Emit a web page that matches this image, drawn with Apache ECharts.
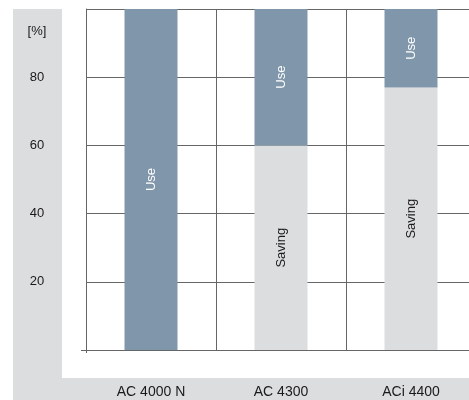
<!DOCTYPE html>
<html><head><meta charset="utf-8">
<script src="https://cdn.jsdelivr.net/npm/echarts@6/dist/echarts.min.js"></script>
<style>html,body{margin:0;padding:0;background:#fff;overflow:hidden;width:469px;height:400px}#c{width:476px;height:400px}</style>
</head><body><div id="c"></div>
<script>
var categories = ['AC 4000 N', 'AC 4300', 'ACi 4400'];
var savingValues = [0, 60, 77];
var useValues = [100, 40, 23];
var yTicks = [20, 40, 60, 80];
var unitLabel = '[%]';

var chart = echarts.init(document.getElementById('c'));
var font = 'Liberation Sans, Arial, sans-serif';
chart.setOption({
  animation: false,
  graphic: [
    { type: 'rect', z: -10, shape: { x: 13, y: 9, width: 49, height: 391 }, style: { fill: '#dcdddf' } },
    { type: 'rect', z: -10, shape: { x: 13, y: 378, width: 463, height: 22 }, style: { fill: '#dcdddf' } },
    { type: 'text', x: 37, y: 31, style: { text: unitLabel, fill: '#1a1a1a', font: '13px ' + font, textAlign: 'center', textVerticalAlign: 'middle' } }
  ],
  grid: { left: 86, top: 9, right: 0, bottom: 50, containLabel: false },
  xAxis: {
    type: 'category',
    data: categories,
    boundaryGap: true,
    axisLine: { show: true, lineStyle: { color: '#666', width: 1 } },
    axisTick: { show: true, length: 3, interval: function (i) { return i === 0; }, lineStyle: { color: '#666' } },
    splitLine: { show: true, lineStyle: { color: '#666', width: 1 } },
    axisLabel: { margin: 35, color: '#1a1a1a', fontSize: 14, fontFamily: font }
  },
  yAxis: [{
    type: 'value', min: 0, max: 100, interval: 20,
    axisLine: { show: true, lineStyle: { color: '#666', width: 1 } },
    axisTick: { show: false },
    splitLine: { show: true, lineStyle: { color: '#666', width: 1 } },
    axisLabel: {
      margin: 49, align: 'center', color: '#1a1a1a', fontSize: 13, fontFamily: font,
      formatter: function (v) { return yTicks.indexOf(v) >= 0 ? String(v) : ''; }
    }
  }, {
    type: 'value', min: 0, max: 100, interval: 20, position: 'left',
    axisLine: { show: false },
    axisTick: { show: true, length: 5, customValues: [0], lineStyle: { color: '#666' } },
    splitLine: { show: false },
    axisLabel: { show: false }
  }],
  series: [
    {
      type: 'bar', stack: 'a', data: savingValues, barWidth: 53,
      itemStyle: { color: '#dcdddf' },
      label: { show: true, position: 'inside', rotate: 90, color: '#1a1a1a', fontSize: 13, fontFamily: font,
        formatter: function (p) { return p.value > 0 ? 'Saving' : ''; } }
    },
    {
      type: 'bar', stack: 'a', data: useValues, barWidth: 53,
      itemStyle: { color: '#8096aa' },
      label: { show: true, position: 'inside', rotate: 90, color: '#fff', fontSize: 13, fontFamily: font,
        formatter: function (p) { return p.value > 0 ? 'Use' : ''; } }
    }
  ]
});
</script></body></html>
